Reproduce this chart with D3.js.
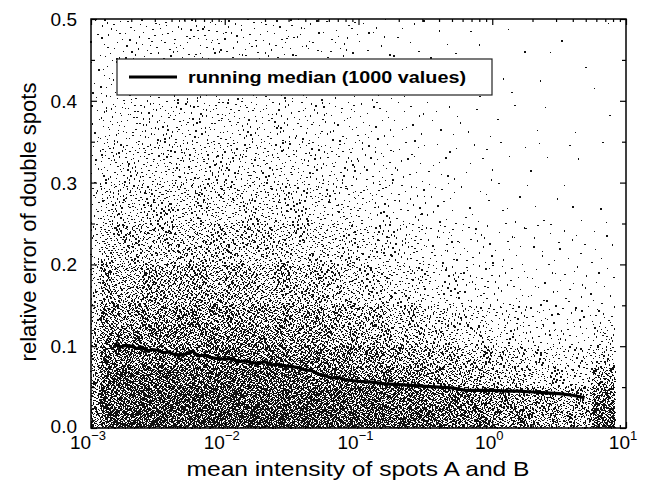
<!DOCTYPE html>
<html>
<head>
<meta charset="utf-8">
<script src="https://cdn.jsdelivr.net/npm/d3@7"></script>
<style>
  body { margin: 0; background: #fff; }
  svg { display: block; font-family: "Liberation Sans", Arial, Helvetica, sans-serif; }
</style>
</head>
<body>
<div id="chart"></div>
<script>
// scatter cloud: dots counted per cell,
// rows from the bottom (0-0.025) up to the top (0.45-0.5)
const intensityEdges = [0.001, 0.00118, 0.00178, 0.00316, 0.00562, 0.01, 0.0178, 0.0316, 0.0562, 0.1,
    0.178, 0.316, 0.562, 1, 1.78, 3.16, 5.62, 8.3];
const errorEdges = [0, 0.025, 0.05, 0.075, 0.1, 0.125, 0.15, 0.2, 0.25, 0.3, 0.35, 0.4, 0.45, 0.5];
const dotCounts = [
    [46, 234, 343, 361, 361, 361, 361, 350, 335, 314, 289, 260, 224, 187, 155, 127, 202],
    [42, 219, 320, 337, 337, 337, 337, 327, 313, 293, 269, 243, 209, 175, 145, 118, 163],
    [38, 195, 286, 301, 301, 301, 292, 271, 246, 216, 180, 144, 112, 84, 60, 45, 97],
    [32, 165, 240, 253, 253, 253, 245, 227, 207, 182, 151, 121, 93, 70, 50, 38, 40],
    [27, 139, 202, 213, 213, 209, 196, 175, 149, 121, 94, 68, 47, 32, 21, 17, 26],
    [23, 118, 172, 181, 181, 178, 167, 149, 127, 104, 80, 58, 40, 28, 18, 14, 11],
    [33, 169, 247, 260, 260, 247, 226, 195, 156, 117, 83, 52, 34, 21, 16, 13, 8],
    [21, 107, 156, 164, 164, 156, 143, 123, 98, 74, 52, 33, 21, 13, 10, 8, 5],
    [13, 68, 99, 104, 104, 97, 86, 73, 57, 40, 25, 15, 8, 5, 4, 3, 2],
    [9, 46, 67, 71, 71, 66, 59, 50, 39, 27, 17, 10, 6, 4, 3, 2, 1],
    [6, 32, 47, 49, 49, 46, 41, 34, 27, 19, 12, 7, 4, 2, 2, 1, 1],
    [5, 23, 34, 36, 36, 33, 30, 25, 20, 14, 9, 5, 3, 2, 1, 1, 1],
    [4, 20, 29, 30, 30, 28, 25, 21, 17, 11, 7, 4, 2, 2, 1, 1, 1]
];

// running median (1000 values)
const medianIntensity = [0.00151, 0.00166, 0.00182, 0.00200, 0.00219, 0.00240, 0.00263, 0.00288,
    0.00316, 0.00347, 0.00380, 0.00417, 0.00468, 0.00525, 0.00575, 0.00631, 0.00708, 0.00794,
    0.00891, 0.0100, 0.0112, 0.0126, 0.0141, 0.0158, 0.0178, 0.0200, 0.0224, 0.0251, 0.0282,
    0.0316, 0.0355, 0.0398, 0.0447, 0.0501, 0.0562, 0.0631, 0.0708, 0.0794, 0.100, 0.126, 0.158,
    0.200, 0.251, 0.316, 0.398, 0.501, 0.631, 0.794, 1.00, 1.26, 1.58, 2.00, 2.51, 3.16, 3.98, 4.90];
const medianError = [0.103, 0.099, 0.101, 0.100, 0.097, 0.099, 0.094, 0.096,
    0.095, 0.092, 0.093, 0.090, 0.089, 0.091, 0.094, 0.088, 0.089, 0.086,
    0.085, 0.084, 0.085, 0.081, 0.082, 0.080, 0.079, 0.081, 0.077, 0.078, 0.076,
    0.075, 0.074, 0.071, 0.070, 0.066, 0.064, 0.061, 0.062, 0.059, 0.057, 0.056, 0.054,
    0.053, 0.052, 0.051, 0.050, 0.049, 0.046, 0.046, 0.046, 0.045, 0.045, 0.044, 0.043, 0.042, 0.040, 0.037];

const xMajorTicks = [0.001, 0.01, 0.1, 1, 10];
const xTickExponents = ['-3', '-2', '-1', '0', '1'];
const yMajorTicks = [0, 0.1, 0.2, 0.3, 0.4, 0.5];
const yMinorTicks = [0.05, 0.15, 0.25, 0.35, 0.45];
const xTitle = 'mean intensity of spots A and B';
const yTitle = 'relative error of double spots';
const legendLabel = 'running median (1000 values)';

const width = 647, height = 480;
const margin = { top: 19, right: 21, bottom: 52, left: 91 };
const plotW = width - margin.left - margin.right;
const plotH = height - margin.top - margin.bottom;

const svg = d3.select('#chart').append('svg')
    .attr('width', width)
    .attr('height', height);
svg.append('rect').attr('width', width).attr('height', height).attr('fill', '#fff');

const x = d3.scaleLog().domain([0.001, 10]).range([0, plotW]);
const y = d3.scaleLinear().domain([0, 0.5]).range([plotH, 0]);

const g = svg.append('g').attr('transform', `translate(${ margin.left },${ margin.top })`);

// halton sequence, only to spread each cell's dots evenly inside its cell
function halton(i, b) {
    let f = 1, r = 0;
    while (i > 0) { f /= b; r += f * (i % b); i = Math.floor(i / b); }
    return r;
}

const dots = [];
dotCounts.forEach((row, ri) => {
    row.forEach((n, ci) => {
        const x0 = x(intensityEdges[ci]), x1 = x(intensityEdges[ci + 1]);
        const y0 = y(errorEdges[ri]), y1 = y(errorEdges[ri + 1]);
        const off = (ri * 17 + ci) * 613 + 1;
        for (let k = 0; k < n; k++) {
            dots.push([x0 + halton(k + off, 2) * (x1 - x0), y0 + halton(k + off, 3) * (y1 - y0)]);
        }
    });
});

g.append('g').selectAll('rect')
    .data(dots)
    .enter()
    .append('rect')
        .attr('x', d => d[0] - 0.65)
        .attr('y', d => d[1] - 0.65)
        .attr('width', 1.35)
        .attr('height', 1.35)
        .attr('fill', '#111')
        .attr('shape-rendering', 'crispEdges');

// median line
const medianData = medianIntensity.map((v, i) => [v, medianError[i]]);
g.append('path')
    .datum(medianData)
    .attr('fill', 'none')
    .attr('stroke', '#000')
    .attr('stroke-width', 3.2)
    .attr('stroke-linejoin', 'round')
    .attr('d', d3.line().x(d => x(d[0])).y(d => y(d[1])));

// axes, ticks pointing inward
const xMinor = x.ticks().filter(t => !xMajorTicks.some(m => Math.abs(m - t) < t * 1e-6));
function tickAxis(axisFn, scale, values, size, transform) {
    const a = g.append('g')
        .attr('transform', transform)
        .call(axisFn(scale).tickValues(values).tickSize(size).tickSizeOuter(0).tickFormat(''));
    a.select('.domain').remove();
    a.selectAll('line').attr('stroke', '#000').attr('stroke-width', 1.2);
}
tickAxis(d3.axisBottom, x, xMajorTicks, -6, `translate(0,${ plotH })`);
tickAxis(d3.axisBottom, x, xMinor, -3, `translate(0,${ plotH })`);
tickAxis(d3.axisTop, x, xMajorTicks, -6, 'translate(0,0)');
tickAxis(d3.axisTop, x, xMinor, -3, 'translate(0,0)');
tickAxis(d3.axisLeft, y, yMajorTicks, -6, 'translate(0,0)');
tickAxis(d3.axisLeft, y, yMinorTicks, -4, 'translate(0,0)');
tickAxis(d3.axisRight, y, yMajorTicks, -6, `translate(${ plotW },0)`);
tickAxis(d3.axisRight, y, yMinorTicks, -4, `translate(${ plotW },0)`);

// legend
const legend = g.append('g').attr('transform', 'translate(26,40)');
legend.append('rect')
    .attr('width', 375).attr('height', 36)
    .attr('fill', '#fff').attr('stroke', '#222').attr('stroke-width', 1.2);
legend.append('line')
    .attr('x1', 12).attr('x2', 60).attr('y1', 18).attr('y2', 18)
    .attr('stroke', '#000').attr('stroke-width', 2.8);
legend.append('text')
    .attr('x', 71).attr('y', 24)
    .attr('font-size', 17).attr('font-weight', 'bold')
    .attr('textLength', 278).attr('lengthAdjust', 'spacingAndGlyphs')
    .text(legendLabel);

// frame
g.append('rect')
    .attr('width', plotW).attr('height', plotH)
    .attr('fill', 'none').attr('stroke', '#000').attr('stroke-width', 1.5);

// tick labels
g.append('g').selectAll('text')
    .data(yMajorTicks)
    .enter()
    .append('text')
        .attr('x', -14)
        .attr('y', d => y(d) + (d === 0 ? 5 : 7))
        .attr('text-anchor', 'end')
        .attr('font-size', 19)
        .text(d => d.toFixed(1));

const xLabels = g.append('g').selectAll('text')
    .data(xMajorTicks)
    .enter()
    .append('text')
        .attr('x', d => x(d) - 3)
        .attr('y', plotH + 21)
        .attr('text-anchor', 'middle')
        .attr('font-size', 19);
xLabels.append('tspan').text('10');
xLabels.append('tspan')
    .attr('dy', -9)
    .attr('font-size', 13)
    .text((d, i) => xTickExponents[i].replace('-', '\u2212'));

// titles
svg.append('text')
    .attr('x', 358)
    .attr('y', 476)
    .attr('text-anchor', 'middle')
    .attr('font-size', 21)
    .attr('textLength', 343).attr('lengthAdjust', 'spacingAndGlyphs')
    .text(xTitle);
svg.append('text')
    .attr('transform', 'translate(36,222) rotate(-90)')
    .attr('text-anchor', 'middle')
    .attr('font-size', 22)
    .text(yTitle);
</script>
</body>
</html>
